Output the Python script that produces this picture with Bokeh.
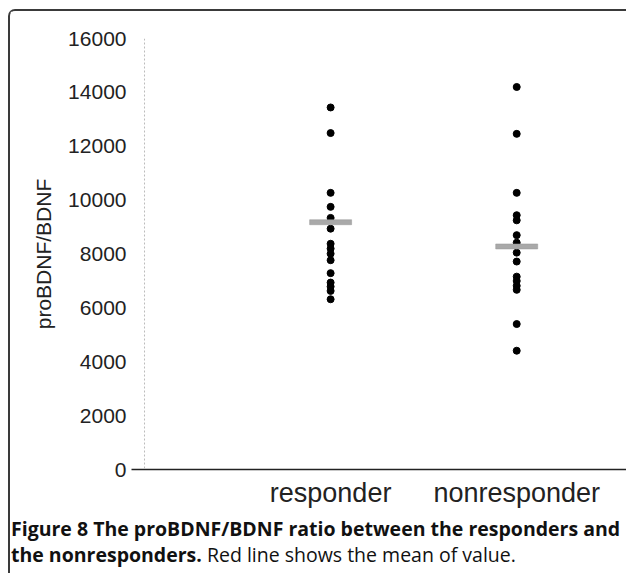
from bokeh.plotting import figure
from bokeh.models import Range1d, FixedTicker, Span, Div
from bokeh.layouts import column
from bokeh.embed import file_html
from bokeh.resources import INLINE

# ---- data ----
groups = ["responder", "nonresponder"]
group_pos = [1, 2]
responder_vals = [13440, 12490, 10270, 9750, 9340, 8940, 8380, 8200, 8010,
                  7770, 7290, 6940, 6790, 6630, 6320]
nonresponder_vals = [14200, 12460, 10270, 9440, 9250, 8700, 8420, 8050,
                     7720, 7160, 7000, 6820, 6670, 5400, 4410]
mean_vals = [9180, 8280]
y_ticks = [0, 2000, 4000, 6000, 8000, 10000, 12000, 14000, 16000]
caption_line1 = "Figure 8 The proBDNF/BDNF ratio between the responders and"
caption_line2_bold = "the nonresponders."
caption_line2_rest = "Red line shows the mean of value."

p = figure(width=616, height=500, output_backend="svg", toolbar_location=None,
           x_range=Range1d(-0.07, 2.59), y_range=Range1d(0, 16000),
           min_border_left=121, min_border_right=0, min_border_top=27,
           min_border_bottom=42)
p.outline_line_color = None
p.grid.visible = False
p.background_fill_color = "white"
p.border_fill_color = "white"

# y axis
ya = p.yaxis[0]
ya.ticker = FixedTicker(ticks=y_ticks)
ya.axis_line_color = None
ya.major_tick_line_color = None
ya.major_tick_out = 0
ya.minor_tick_line_color = None
ya.major_label_standoff = 5
ya.major_label_text_font = "Liberation Sans"
ya.major_label_text_font_size = "21px"
ya.major_label_text_color = "#222222"
ya.axis_label = "proBDNF/BDNF"
ya.axis_label_text_font = "Liberation Sans"
ya.axis_label_text_font_size = "21px"
ya.axis_label_text_font_style = "normal"
ya.axis_label_text_color = "#222222"
ya.axis_label_standoff = 10

# x axis
xa = p.xaxis[0]
xa.ticker = FixedTicker(ticks=group_pos)
xa.major_label_overrides = {pos: name for pos, name in zip(group_pos, groups)}
xa.axis_line_color = "#222222"
xa.axis_line_width = 1.5
xa.major_tick_line_color = None
xa.major_tick_out = 0
xa.minor_tick_line_color = None
xa.major_label_standoff = 8
xa.major_label_text_font = "Liberation Sans"
xa.major_label_text_font_size = "27px"
xa.major_label_text_color = "#222222"

# faint dotted vertical axis line
p.add_layout(Span(location=0, dimension="height", line_color="#bbbbbb",
                  line_dash="2 2", line_width=1))

# points
p.scatter([group_pos[0]] * len(responder_vals), responder_vals, size=7,
          color="black")
p.scatter([group_pos[1]] * len(nonresponder_vals), nonresponder_vals, size=7,
          color="black")

# mean bars
p.rect(x=group_pos, y=mean_vals, width=42, height=5, width_units="screen",
       height_units="screen", fill_color="#a9a9a9", line_color="#999999",
       line_width=0.5)

caption = Div(
    text=("<span style='font-weight:bold'>%s</span><br>"
          "<span style='font-weight:bold'>%s</span> <span>%s</span>")
         % (caption_line1, caption_line2_bold, caption_line2_rest),
    width=616, height=62,
    styles={"font-family": "'Open Sans', sans-serif", "font-size": "19.5px",
            "line-height": "26px", "color": "#111111", "padding-top": "0px",
            "position": "relative", "left": "-4px",
            "white-space": "nowrap", "box-sizing": "border-box"})

layout = column(p, caption, spacing=0,
                styles={"margin-left": "8px", "margin-top": "9px",
                        "border-left": "2px solid #3a3a3a",
                        "border-top": "2px solid #3a3a3a",
                        "border-top-left-radius": "7px",
                        "background-color": "white"})

open("out.html", "w").write(file_html(layout, INLINE))
